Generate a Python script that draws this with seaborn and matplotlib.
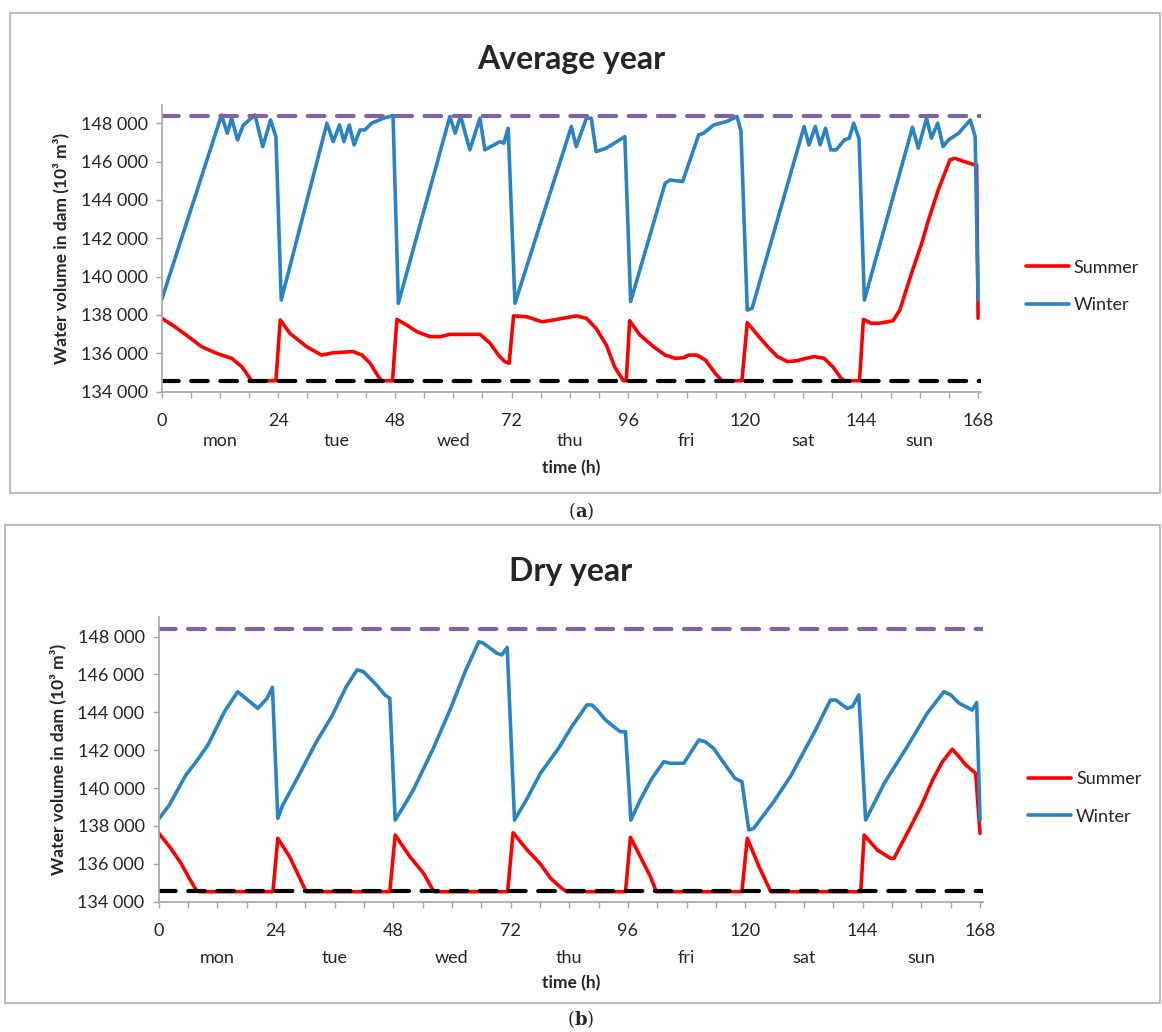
import matplotlib
matplotlib.use("Agg")
import matplotlib.pyplot as plt
from matplotlib.patches import Rectangle
from matplotlib.ticker import FuncFormatter, MultipleLocator
import pandas as pd
import seaborn as sns

# ---- Average year ----
avg_summer_h = [0, 2.7, 5.5, 8.2, 11.3, 14.4, 16.5, 18.5, 23.5, 24.4, 26.4, 29.8, 32.9, 35.3,
                39.4, 41.2, 42.9, 44.6, 45.3, 47.5, 48.4, 50.4, 52.5, 55.2, 57.3, 59.3, 65.5,
                67.6, 69.3, 70.6, 71.5, 72.4, 75.1, 78.2, 79.8, 82.6, 85.3, 87.4, 89.4, 91.5,
                93.2, 95.0, 95.6, 96.3, 98.4, 101.2, 103.6, 105.7, 107.4, 108.4, 110.1, 111.9,
                113.9, 115.3, 119.4, 120.5, 122.6, 124.7, 126.7, 128.8, 130.8, 132.6, 134.3,
                136.3, 138.1, 139.8, 140.5, 143.6, 144.4, 146.0, 147.7, 150.5, 151.9, 154.3,
                156.4, 157.8, 159.8, 162.2, 163.2, 164.6, 167.2, 167.7, 168.0]
avg_summer_v = [137830, 137390, 136870, 136350, 136000, 135740, 135300, 134570, 134570, 137740,
                137040, 136350, 135910, 136030, 136090, 135910, 135480, 134780, 134570, 134570,
                137770, 137480, 137130, 136870, 136870, 136990, 136990, 136520, 135910, 135570,
                135480, 137950, 137910, 137650, 137700, 137830, 137950, 137830, 137300, 136430,
                135300, 134570, 134570, 137700, 136960, 136350, 135910, 135740, 135770, 135910,
                135910, 135650, 134960, 134570, 134570, 137600, 136960, 136350, 135830, 135570,
                135620, 135740, 135830, 135740, 135300, 134700, 134570, 134570, 137770, 137570,
                137570, 137700, 138260, 140170, 141740, 142960, 144520, 146090, 146170, 146050,
                145830, 145830, 137830]
avg_winter_h = [0, 12.3, 13.5, 14.4, 15.6, 16.8, 19.2, 20.8, 22.4, 23.5, 24.6, 34.0, 35.3, 36.6,
                37.5, 38.6, 39.6, 40.8, 41.8, 43.2, 45.6, 47.6, 48.7, 59.3, 60.4, 61.5, 63.4,
                65.5, 66.5, 69.6, 70.4, 71.3, 72.7, 84.3, 85.3, 87.4, 88.4, 89.4, 91.5, 95.3,
                96.5, 103.6, 104.6, 107.2, 110.5, 111.5, 113.6, 116.3, 118.4, 119.2, 120.5,
                121.5, 132.2, 133.2, 134.5, 135.5, 136.6, 137.7, 138.8, 140.5, 141.5, 142.4,
                143.5, 144.6, 154.5, 155.7, 157.4, 158.4, 159.7, 160.8, 161.9, 164.0, 166.4,
                167.4, 168.0]
avg_winter_v = [138800, 148420, 147480, 148260, 147130, 147900, 148430, 146780, 148170, 147300,
                138780, 148000, 147040, 147910, 147040, 147910, 146870, 147650, 147650, 148000,
                148260, 148400, 138610, 148350, 147480, 148380, 146610, 148260, 146610, 147040,
                146960, 147740, 138610, 147830, 146780, 148260, 148260, 146520, 146700, 147300,
                138700, 144870, 145040, 144960, 147390, 147480, 147910, 148090, 148350, 147600,
                138260, 138350, 147830, 146870, 147830, 146870, 147740, 146610, 146610, 147130,
                147220, 148000, 147200, 138780, 147790, 146700, 148260, 147220, 148000, 146780,
                147130, 147480, 148170, 147300, 138780]

# ---- Dry year ----
dry_summer_h = [0, 2.5, 4.6, 6.3, 7.7, 8.3, 23.4, 24.4, 26.8, 30.2, 47.3, 48.4, 51.4, 54.2,
                56.1, 56.6, 71.4, 72.5, 75.4, 78.1, 80.2, 82.5, 83.5, 95.5, 96.5, 98.2, 100.6,
                101.8, 119.3, 120.4, 122.8, 125.2, 143.6, 144.3, 147.0, 149.7, 150.4, 153.8,
                155.9, 158.3, 160.3, 162.3, 163.7, 165.1, 167.1, 168.0]
dry_summer_v = [137640, 136820, 136030, 135230, 134620, 134530, 134530, 137350, 136380, 134530,
                134530, 137520, 136380, 135500, 134620, 134530, 134530, 137640, 136730, 135990,
                135230, 134700, 134530, 134530, 137400, 136550, 135320, 134530, 134530, 137350,
                135850, 134530, 134530, 137520, 136730, 136290, 136290, 137960, 139020, 140430,
                141390, 142050, 141660, 141220, 140780, 137610]
dry_winter_h = [0, 2.2, 5.6, 7.7, 10.1, 13.5, 16.2, 20.3, 22.2, 23.3, 24.4, 25.4, 28.2, 32.3,
                35.4, 38.4, 40.6, 41.9, 44.6, 46.3, 47.3, 48.4, 50.1, 52.1, 56.2, 59.6, 62.7,
                65.5, 66.5, 69.2, 70.2, 71.3, 72.8, 75.4, 78.1, 81.8, 84.5, 87.6, 88.6, 89.7,
                91.4, 93.1, 94.4, 95.5, 96.6, 98.5, 100.9, 103.3, 104.7, 107.4, 110.5, 111.8,
                113.5, 115.9, 117.9, 119.3, 120.7, 121.7, 125.8, 129.2, 134.0, 137.4, 138.5,
                140.8, 141.9, 143.2, 144.6, 148.4, 153.1, 157.2, 160.6, 162.0, 163.7, 166.4,
                167.3, 168.0]
dry_winter_v = [138350, 139100, 140690, 141390, 142270, 144040, 145090, 144210, 144740, 145320,
                138400, 139100, 140430, 142450, 143770, 145360, 146240, 146150, 145440, 144920,
                144740, 138310, 139020, 139900, 142100, 144120, 146150, 147730, 147640, 147120,
                147030, 147430, 138310, 139460, 140780, 142100, 143240, 144390, 144390, 144120,
                143600, 143240, 142980, 142980, 138310, 139370, 140510, 141390, 141310, 141310,
                142540, 142450, 142100, 141220, 140510, 140340, 137790, 137870, 139280, 140600,
                142890, 144650, 144650, 144210, 144300, 144920, 138310, 140250, 142190, 143950,
                145090, 144920, 144480, 144120, 144510, 138310]

max_volume = 148400
min_volume = 134560
hour_ticks = [0, 24, 48, 72, 96, 120, 144, 168]
day_names = ["mon", "tue", "wed", "thu", "fri", "sat", "sun"]
season_colors = {"Summer": "#FF0000", "Winter": "#2A84C4"}

W, H = 1162, 1032


def to_frame(sh, sv, wh, wv):
    s = pd.DataFrame({"hour": sh, "volume": sv, "season": "Summer"})
    w = pd.DataFrame({"hour": wh, "volume": wv, "season": "Winter"})
    return pd.concat([s, w], ignore_index=True)


sns.set_style("white")
plt.rcParams["font.family"] = ["Lato", "DejaVu Sans"]
plt.rcParams["mathtext.fontset"] = "dejavuserif"

fig = plt.figure(figsize=(W / 100, H / 100), dpi=100)

panels = [
    # title, frame, axes rect (px), ylim top, label offsets, legend y, box, caption
    ("Average year", to_frame(avg_summer_h, avg_summer_v, avg_winter_h, avg_winter_v),
     (161.7, 105, 981, 391.7), 148950, (49, -0.238), 0.367, (10, 13, 1160, 493), ("(", "a", ")", 511)),
    ("Dry year", to_frame(dry_summer_h, dry_summer_v, dry_winter_h, dry_winter_v),
     (158.5, 616.7, 983, 901.7), 149050, (56, -0.257), 0.364, (5, 525, 1160, 1003), ("(", "b", ")", 1019)),
]

for title, df, (x0, y0, x1, y1), ytop, (day_off, xlab_y), leg_y, box, cap in panels:
    # panel frame
    bx0, by0, bx1, by1 = box
    fig.add_artist(Rectangle((bx0 / W, 1 - by1 / H), (bx1 - bx0) / W, (by1 - by0) / H,
                             transform=fig.transFigure, fill=False, ec="#BDBDBD", lw=1.5))
    fig.text(581 / W, 1 - cap[3] / H, cap[0] + r"$\mathbf{" + cap[1] + "}$" + cap[2],
             ha="center", va="center", fontsize=13, family="DejaVu Serif")

    ax = fig.add_axes([x0 / W, 1 - y1 / H, (x1 - x0) / W, (y1 - y0) / H])
    sns.lineplot(data=df, x="hour", y="volume", hue="season", palette=season_colors,
                 estimator=None, sort=False, linewidth=2.6, ax=ax)
    ax.axhline(max_volume, color="#8064A2", lw=3, dashes=(4, 3), dash_capstyle="round")
    ax.axhline(min_volume, color="black", lw=3, dashes=(4, 3), dash_capstyle="round")

    ax.set_xlim(0, 168.6)
    ax.set_ylim(134000, ytop)
    ax.set_xticks(hour_ticks)
    ax.xaxis.set_minor_locator(MultipleLocator(6))
    ax.yaxis.set_major_locator(MultipleLocator(2000))
    ax.yaxis.set_major_formatter(FuncFormatter(lambda v, p: f"{v:,.0f}".replace(",", " ")))
    ax.tick_params(axis="x", which="both", direction="out", length=4, width=1,
                   color="#A6A6A6", labelsize=13, pad=11)
    ax.tick_params(axis="y", direction="out", length=4, width=1, color="#A6A6A6",
                   labelsize=13, pad=6)
    ax.tick_params(bottom=True, left=True)
    ax.tick_params(axis="x", which="minor", bottom=True)
    for side in ["top", "right"]:
        ax.spines[side].set_visible(False)
    for side in ["left", "bottom"]:
        ax.spines[side].set_color("#A6A6A6")
        ax.spines[side].set_linewidth(1.2)

    for i, name in enumerate(day_names):
        ax.annotate(name, xy=(12 + 24 * i, 0), xycoords=("data", "axes fraction"),
                    xytext=(0, -day_off * 0.72), textcoords="offset points",
                    ha="center", va="center", fontsize=13)

    ax.set_xlabel("time (h)", fontsize=12.5, fontweight="bold")
    ax.xaxis.set_label_coords(0.5, xlab_y)
    ax.set_ylabel("Water volume in dam (10³ m³)", fontsize=12.5, fontweight="bold", labelpad=8)
    ax.set_title(title, fontsize=23, fontweight="bold", pad=26)

    sns.move_legend(ax, "center left", bbox_to_anchor=(1.035, leg_y), frameon=False,
                    title=None, fontsize=13, handlelength=2.4, labelspacing=1.2,
                    handletextpad=0.25)

fig.savefig("out.png", dpi=100)
